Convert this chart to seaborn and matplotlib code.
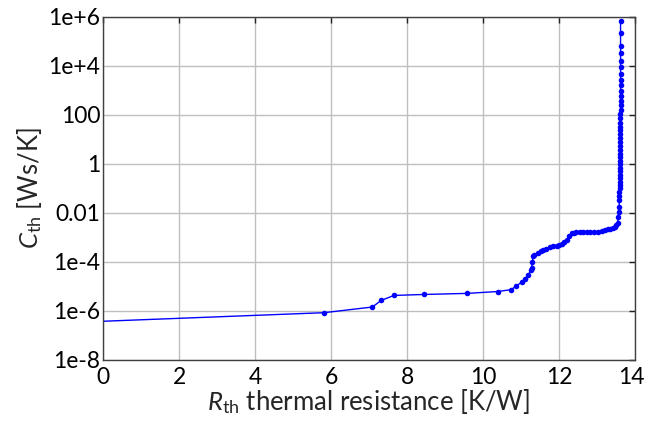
import matplotlib
matplotlib.use("Agg")
import matplotlib.pyplot as plt
import matplotlib.transforms as mtransforms
import seaborn as sns
import pandas as pd
from matplotlib.ticker import FixedLocator, FixedFormatter, NullLocator

# Data (R_th in K/W, C_th in Ws/K)
r_th = [0.00, 5.82, 7.09, 7.32, 7.66, 8.44, 9.57, 10.39, 10.74, 10.88,
        11.02, 11.10, 11.19, 11.26, 11.28, 11.30, 11.32, 11.35, 11.45, 11.52,
        11.59, 11.67, 11.76, 11.85, 11.94, 12.01, 12.07, 12.14, 12.20, 12.27,
        12.33, 12.40, 12.46, 12.55, 12.64, 12.73, 12.82, 12.92, 13.03, 13.12,
        13.21, 13.28, 13.34, 13.41, 13.47, 13.51, 13.54, 13.56, 13.57, 13.58,
        13.59, 13.59, 13.59, 13.60, 13.60, 13.60, 13.60, 13.60, 13.60, 13.60,
        13.61, 13.61, 13.61, 13.61, 13.61, 13.61, 13.61, 13.61, 13.61, 13.61,
        13.61, 13.61, 13.61, 13.61, 13.62, 13.62, 13.62, 13.62, 13.62, 13.62,
        13.62, 13.62, 13.62, 13.62, 13.62, 13.62, 13.62, 13.62]
c_th = [3.8e-7, 8.5e-7, 1.45e-6, 2.7e-6, 4.3e-6, 4.7e-6, 5.2e-6, 6.2e-6, 7.4e-6, 1.05e-5,
        1.5e-5, 1.95e-5, 2.9e-5, 4.6e-5, 5.8e-5, 1.0e-4, 1.7e-4, 1.9e-4, 2.35e-4, 2.7e-4,
        3.0e-4, 3.5e-4, 4.1e-4, 4.4e-4, 4.5e-4, 4.8e-4, 5.2e-4, 6.3e-4, 8.1e-4, 1.1e-3,
        1.45e-3, 1.55e-3, 1.6e-3, 1.6e-3, 1.6e-3, 1.62e-3, 1.62e-3, 1.66e-3, 1.66e-3, 1.8e-3,
        1.95e-3, 2.15e-3, 2.3e-3, 2.45e-3, 2.7e-3, 3.2e-3, 3.7e-3, 6.9e-3, 0.011, 0.017,
        0.033, 0.05, 0.071, 0.1, 0.14, 0.19, 0.26, 0.36, 0.5, 0.69,
        0.95, 1.3, 1.9, 2.6, 3.7, 5.2, 7.6, 11, 16, 23,
        33, 48, 71, 105, 160, 240, 370, 590, 950, 1600,
        2700, 4700, 8500, 1.6e4, 3.2e4, 6.6e4, 2.2e5, 6.5e5]

y_ticks = [1e-8, 1e-6, 1e-4, 1e-2, 1, 100, 1e4, 1e6]
y_tick_labels = ["1e-8", "1e-6", "1e-4", "0.01", "1", "100", "1e+4", "1e+6"]
x_ticks = [0, 2, 4, 6, 8, 10, 12, 14]

df = pd.DataFrame({"R": r_th, "C": c_th})

sns.set_style("white")
plt.rcParams["font.family"] = ["Lato", "DejaVu Sans"]
plt.rcParams["mathtext.fontset"] = "custom"
plt.rcParams["mathtext.rm"] = "Lato"
plt.rcParams["mathtext.it"] = "Lato:italic"

fig = plt.figure(figsize=(6.45, 4.23), dpi=100)
ax = fig.add_axes([103 / 645, 1 - 360 / 423, (635 - 103) / 645, (360 - 16.7) / 423])

sns.lineplot(data=df, x="R", y="C", sort=False, estimator=None, ax=ax,
             color="#0000ff", linewidth=1.0, marker="o", markersize=4,
             markeredgewidth=0, markevery=slice(1, None))

ax.set_yscale("log")
ax.set_xlim(0, 14)
ax.set_ylim(1e-8, 1e6)
ax.yaxis.set_major_locator(FixedLocator(y_ticks))
ax.yaxis.set_major_formatter(FixedFormatter(y_tick_labels))
ax.yaxis.set_minor_locator(NullLocator())
ax.set_xticks(x_ticks)
ax.set_xticklabels([str(t) for t in x_ticks])

ax.grid(True, color="#bfbfbf", linewidth=1.0)
ax.set_axisbelow(True)
for s in ax.spines.values():
    s.set_color("#404040")
    s.set_linewidth(1.0)
ax.tick_params(direction="in", length=4, width=1, color="#202020",
               top=True, right=True, labelsize=16.5, pad=2, labelcolor="black")
ax.tick_params(axis="x", pad=5)

# nudge the last x tick label inward so it stays inside the figure
last = ax.get_xticklabels()[-1]
last.set_transform(last.get_transform() + mtransforms.ScaledTranslation(-4 / 100, 0, fig.dpi_scale_trans))

ax.set_xlabel(r"$\mathit{R}_{\mathrm{th}}$ thermal resistance [K/W]", fontsize=18.5, labelpad=-1)
ax.set_ylabel(r"$\mathit{C}_{\mathrm{th}}$ [Ws/K]", fontsize=18.5, labelpad=3)

fig.savefig("out.png", dpi=100)
